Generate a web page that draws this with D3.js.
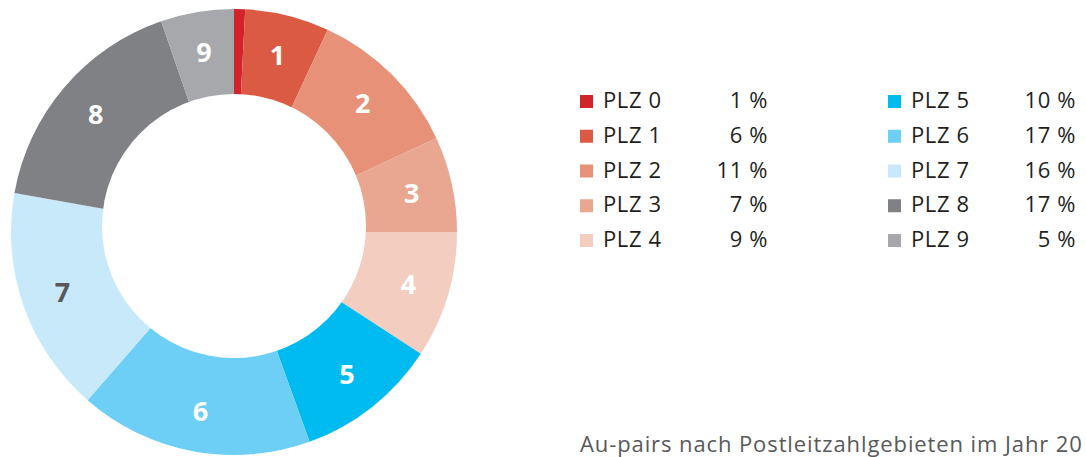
<!DOCTYPE html>
<html>
<head>
<meta charset="utf-8">
<script src="https://d3js.org/d3.v7.min.js"></script>
<style>
  body { margin: 0; background: #fff; }
  svg text { font-family: "Open Sans", "Noto Sans", sans-serif; }
</style>
</head>
<body>
<svg width="1086" height="457"></svg>
<script>
// share per postcode area
var regions = ["0", "1", "2", "3", "4", "5", "6", "7", "8", "9"];
var shares = [0.8, 6.1, 11.2, 6.9, 9.2, 10.3, 16.9, 16.4, 16.9, 5.3];
var legendNames = ["PLZ 0", "PLZ 1", "PLZ 2", "PLZ 3", "PLZ 4", "PLZ 5", "PLZ 6", "PLZ 7", "PLZ 8", "PLZ 9"];
var legendPercents = ["1 %", "6 %", "11 %", "7 %", "9 %", "10 %", "17 %", "16 %", "17 %", "5 %"];
var colors = ["#d2232a", "#db5a43", "#e69178", "#e9a690", "#f3cec0",
              "#00bbef", "#6dcff5", "#c7e9f9", "#808184", "#a7a8ab"];
var labelColors = ["#fff", "#fff", "#fff", "#fff", "#fff", "#fff", "#fff", "#58595b", "#fff", "#fff"];
var caption = "Au-pairs nach Postleitzahlgebieten im Jahr 20";

var svg = d3.select("svg");
var cx = 234, cy = 232, outerR = 223, innerR = 132;

var pie = d3.pie().sort(null).value(function(d) { return d; });
var arcs = pie(shares);

//full pie, then the white hole (sits a bit higher than the pie centre)
var arc = d3.arc().innerRadius(0).outerRadius(outerR);
var g = svg.append("g").attr("transform", "translate(" + cx + "," + cy + ")");
g.selectAll("path")
  .data(arcs)
  .enter()
  .append("path")
  .attr("d", arc)
  .attr("fill", function(d, i) { return colors[i]; });

g.append("circle")
  .attr("cx", 0)
  .attr("cy", -6)
  .attr("r", innerR)
  .attr("fill", "#fff");

//slice numbers
var labelArc = d3.arc().innerRadius(182).outerRadius(182);
g.selectAll("text.num")
  .data(arcs)
  .enter()
  .append("text")
  .attr("class", "num")
  .filter(function(d, i) { return i > 0; })
  .attr("x", function(d) { return labelArc.centroid(d)[0]; })
  .attr("y", function(d) { return labelArc.centroid(d)[1]; })
  .attr("dy", "0.36em")
  .attr("text-anchor", "middle")
  .style("font-size", "27px")
  .style("font-weight", "bold")
  .style("fill", function(d, i) { return labelColors[i + 1]; })
  .text(function(d, i) { return regions[i + 1]; });

//legend in two columns of five
var colX = d3.scaleOrdinal().domain([0, 1]).range([580, 888]);
var rowY = d3.scaleLinear().domain([0, 4]).range([108, 247]);

var leg = svg.append("g").selectAll("g")
  .data(legendNames)
  .enter()
  .append("g")
  .attr("transform", function(d, i) {
    return "translate(" + colX(Math.floor(i / 5)) + "," + rowY(i % 5) + ")";
  });

leg.append("rect")
  .attr("x", 0)
  .attr("y", -13)
  .attr("width", 13)
  .attr("height", 13)
  .attr("fill", function(d, i) { return colors[i]; });

leg.append("text")
  .attr("x", 23)
  .style("font-size", "22px")
  .style("letter-spacing", "0.6px")
  .style("fill", "#231f20")
  .text(function(d) { return d; });

leg.append("text")
  .attr("x", 188)
  .attr("text-anchor", "end")
  .style("font-size", "22px")
  .style("letter-spacing", "0.6px")
  .style("fill", "#231f20")
  .text(function(d, i) { return legendPercents[i]; });

//caption at the bottom right
svg.append("text")
  .attr("x", 580)
  .attr("y", 452)
  .style("font-size", "22px")
  .style("letter-spacing", "0.9px")
  .style("fill", "#58595b")
  .text(caption);
</script>
</body>
</html>
